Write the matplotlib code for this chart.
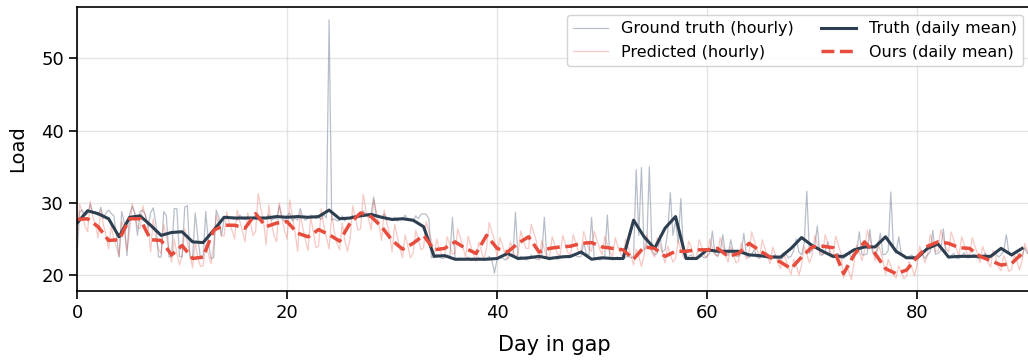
import numpy as np
import matplotlib
matplotlib.use("Agg")
import matplotlib.pyplot as plt

# 6-hourly samples (4 per day, day 0..90)
truth_hourly = [
    23.0, 28.8, 29.0, 28.2,  28.5, 29.8, 28.6, 28.8,
    28.2, 29.4, 27.8, 28.6,  29.0, 28.5, 28.2, 25.5,
    22.5, 28.8, 27.2, 22.7,  28.4, 29.5, 28.6, 25.5,
    28.8, 29.0, 28.4, 26.6,  28.6, 29.3, 27.2, 22.5,
    22.5, 28.8, 28.2, 22.5,  22.6, 29.2, 29.2, 22.6,
    22.5, 29.4, 29.6, 22.5,  22.4, 28.6, 25.2, 22.3,
    22.3, 28.8, 24.6, 22.3,  22.4, 29.0, 28.0, 25.4,
    27.8, 28.2, 27.9, 28.0,  28.0, 27.6, 28.3, 27.9,
    27.7, 28.1, 27.8, 28.0,  28.2, 27.6, 27.9, 28.0,
    27.9, 28.4, 27.6, 27.8,  27.8, 29.6, 28.0, 27.4,
    28.2, 28.6, 27.5, 27.9,  27.6, 29.2, 28.0, 27.6,
    27.9, 28.3, 28.1, 27.8,  28.0, 27.7, 28.4, 27.9,
    55.3, 27.6, 27.8, 27.5,  27.6, 28.2, 27.5, 27.9,
    27.8, 28.3, 27.7, 28.1,  28.2, 28.9, 28.4, 28.1,
    28.4, 30.8, 28.0, 28.0,  28.0, 28.5, 27.6, 27.9,
    27.6, 28.0, 27.5, 27.7,  27.8, 28.3, 27.6, 27.5,
    27.4, 28.2, 27.8, 28.4,  28.5, 28.4, 27.8, 22.4,
    22.5, 22.9, 22.6, 22.3,  22.4, 22.8, 22.5, 28.0,
    22.3, 22.0, 22.4, 22.1,  22.2, 22.5, 22.0, 22.1,
    22.1, 22.4, 22.2, 22.0,  22.3, 22.6, 22.1, 20.3,
    22.2, 22.5, 22.4, 22.1,  22.3, 22.7, 22.5, 28.7,
    22.2, 22.6, 22.3, 22.1,  22.3, 22.8, 22.4, 22.2,
    22.2, 22.6, 28.0, 22.3,  22.1, 22.5, 22.4, 22.2,
    22.3, 22.7, 22.6, 22.4,  22.4, 22.8, 22.7, 22.5,
    22.6, 24.5, 23.0, 22.7,  28.0, 22.4, 22.3, 22.1,
    22.2, 22.5, 28.3, 22.3,  22.1, 22.4, 22.5, 22.2,
    22.2, 22.5, 22.6, 22.4,  22.6, 34.6, 25.5, 34.9,
    23.5, 24.0, 35.0, 23.4,  22.8, 23.0, 25.5, 23.2,
    23.5, 26.0, 31.4, 25.5,  27.6, 24.5, 30.6, 23.0,
    22.3, 22.6, 22.8, 22.2,  22.2, 22.5, 22.6, 22.4,
    22.6, 23.0, 26.1, 23.0,  22.6, 23.2, 25.6, 22.8,
    22.7, 24.9, 23.2, 22.6,  22.6, 23.0, 25.8, 22.7,
    22.4, 22.9, 23.5, 22.5,  22.3, 22.8, 23.0, 22.4,
    22.2, 22.6, 22.8, 22.3,  22.2, 22.5, 22.9, 22.4,
    22.6, 23.4, 25.0, 23.2,  22.8, 24.5, 31.6, 23.0,
    23.5, 24.0, 26.8, 22.8,  22.8, 23.3, 24.6, 22.6,
    22.4, 22.7, 23.0, 22.3,  22.3, 22.6, 23.1, 22.4,
    22.6, 23.2, 26.0, 22.8,  22.8, 23.0, 26.3, 23.2,
    22.6, 23.5, 25.8, 22.8,  22.9, 23.4, 31.5, 23.6,
    23.0, 25.3, 23.0, 22.6,  22.3, 22.6, 22.8, 22.2,
    22.2, 22.5, 22.9, 22.3,  22.8, 23.2, 26.2, 22.9,
    23.0, 23.4, 26.4, 23.0,  22.4, 22.7, 23.0, 22.3,
    22.3, 22.6, 23.1, 22.4,  22.4, 22.8, 22.9, 22.3,
    22.3, 22.6, 23.0, 22.4,  22.4, 22.7, 23.0, 22.5,
    22.8, 23.3, 25.6, 23.0,  22.6, 22.9, 23.4, 22.4,
    22.6, 23.8, 23.0, 23.4,
]

pred_hourly = [
    25.5, 29.8, 28.5, 26.8,  26.0, 30.2, 28.0, 26.9,
    25.2, 29.0, 27.0, 25.5,  23.6, 26.8, 25.0, 23.8,
    22.6, 27.5, 26.2, 23.4,  26.2, 29.9, 28.4, 26.7,
    26.4, 29.6, 28.2, 27.0,  23.2, 27.8, 25.0, 23.6,
    23.0, 27.0, 25.3, 23.8,  21.8, 25.0, 23.0, 21.4,
    22.6, 26.4, 24.5, 22.9,  21.0, 24.6, 22.4, 21.2,
    21.3, 24.2, 22.9, 21.6,  24.0, 28.3, 27.0, 25.5,
    25.4, 28.8, 27.2, 26.2,  25.0, 29.0, 27.4, 26.1,
    24.6, 28.6, 27.3, 25.5,  26.0, 31.3, 29.2, 27.5,
    24.2, 29.7, 27.4, 25.5,  24.6, 30.0, 28.0, 26.2,
    25.0, 30.4, 28.2, 26.0,  23.3, 28.6, 26.5, 24.8,
    23.4, 28.0, 26.0, 23.8,  24.0, 29.2, 26.8, 25.2,
    23.6, 28.4, 26.0, 24.4,  23.5, 27.2, 24.8, 23.3,
    25.0, 29.6, 28.0, 26.2,  26.4, 31.2, 29.0, 27.8,
    26.2, 30.4, 28.8, 27.0,  24.8, 29.0, 27.2, 25.8,
    23.2, 27.0, 25.3, 23.7,  22.4, 25.6, 24.0, 22.4,
    23.0, 26.2, 24.9, 23.5,  23.8, 27.4, 26.0, 24.8,
    22.6, 25.0, 23.6, 22.8,  22.4, 25.3, 24.2, 22.9,
    23.0, 26.4, 25.2, 23.8,  22.5, 25.4, 24.0, 22.9,
    21.9, 24.6, 23.4, 22.1,  23.8, 27.3, 26.0, 24.9,
    22.4, 25.2, 24.2, 23.0,  22.2, 24.6, 23.6, 22.4,
    23.0, 26.1, 24.8, 23.7,  23.7, 27.0, 25.8, 24.7,
    22.1, 24.8, 23.6, 22.3,  22.5, 25.3, 24.1, 22.9,
    22.7, 25.5, 24.3, 23.1,  22.8, 25.6, 24.4, 23.2,
    23.2, 26.0, 24.8, 23.6,  23.3, 26.1, 24.9, 23.7,
    22.8, 25.4, 24.2, 23.2,  22.6, 25.2, 24.0, 23.0,
    22.5, 25.0, 23.8, 22.7,  21.4, 23.6, 22.6, 21.2,
    22.7, 25.5, 24.3, 23.1,  22.5, 25.2, 24.1, 23.0,
    21.7, 24.0, 22.9, 21.8,  22.3, 24.8, 23.6, 22.5,
    22.2, 24.7, 23.8, 22.5,  22.5, 24.9, 23.9, 22.7,
    22.4, 25.0, 23.8, 22.8,  22.6, 25.2, 24.0, 23.0,
    21.8, 23.9, 23.0, 21.7,  22.0, 24.4, 23.4, 22.2,
    23.2, 26.0, 24.8, 23.6,  22.4, 24.9, 23.7, 22.6,
    21.6, 23.9, 22.8, 21.7,  20.9, 23.1, 22.2, 21.0,
    20.1, 22.2, 21.3, 20.0,  21.4, 24.0, 22.9, 21.7,
    22.7, 25.5, 24.3, 23.1,  22.8, 25.6, 24.4, 23.2,
    22.6, 25.4, 24.2, 23.0,  19.6, 21.4, 20.5, 19.4,
    21.8, 24.2, 23.2, 22.0,  23.4, 26.2, 25.0, 23.8,
    22.0, 24.6, 23.4, 22.1,  20.1, 22.2, 21.3, 20.0,
    19.6, 21.3, 20.5, 19.5,  19.9, 21.9, 21.1, 19.9,
    21.4, 24.0, 22.9, 21.7,  22.8, 25.6, 24.4, 23.2,
    23.4, 26.3, 25.0, 23.7,  23.2, 26.0, 24.8, 23.6,
    22.7, 25.3, 24.2, 23.0,  22.6, 25.2, 24.0, 23.0,
    21.7, 24.0, 22.9, 21.8,  21.1, 23.4, 22.4, 21.1,
    20.6, 22.7, 21.8, 20.5,  20.8, 22.9, 22.0, 20.7,
    22.0, 24.4, 23.4, 22.2,
]

truth_daily = [
    27.2, 28.9, 28.5, 27.8, 25.3, 28.0, 28.2, 26.9, 25.5, 25.9,
    26.0, 24.6, 24.5, 26.2, 28.0, 27.9, 27.9, 27.9, 27.9, 28.1,
    28.0, 28.1, 28.0, 28.1, 29.0, 27.8, 27.9, 28.2, 28.4, 28.0,
    27.7, 27.8, 27.6, 26.7, 22.6, 22.7, 22.2, 22.2, 22.2, 22.2,
    22.3, 23.0, 22.3, 22.4, 22.6, 22.3, 22.5, 22.6, 23.2, 22.2,
    22.4, 22.3, 22.3, 27.6, 25.3, 23.7, 26.5, 28.1, 22.3, 22.3,
    23.5, 23.3, 23.3, 23.3, 22.8, 22.7, 22.5, 22.5, 23.7, 25.2,
    24.1, 23.3, 22.6, 22.6, 23.5, 23.9, 23.9, 25.3, 23.3, 22.4,
    22.4, 23.7, 24.3, 22.5, 22.6, 22.6, 22.6, 22.6, 23.7, 22.8,
    23.7,
]

ours_daily = [
    27.7, 27.8, 26.7, 24.8, 24.9, 27.8, 27.8, 24.9, 24.8, 22.8,
    24.1, 22.3, 22.5, 26.2, 26.9, 26.9, 26.5, 28.5, 26.7, 27.2,
    27.4, 25.8, 25.3, 26.3, 25.6, 24.7, 27.2, 28.6, 28.1, 26.7,
    24.8, 23.6, 24.4, 25.5, 23.5, 23.7, 24.6, 23.7, 23.0, 25.5,
    23.7, 23.2, 24.4, 25.3, 23.2, 23.7, 23.9, 24.0, 24.4, 24.5,
    23.9, 23.7, 23.5, 22.2, 23.9, 23.7, 22.6, 23.3, 23.3, 23.5,
    23.5, 23.7, 22.6, 23.0, 24.4, 23.4, 22.5, 21.8, 20.9, 22.5,
    23.9, 24.0, 23.8, 20.2, 22.8, 24.6, 23.0, 20.9, 20.2, 20.7,
    22.5, 24.0, 24.6, 24.4, 23.8, 23.7, 22.6, 22.0, 21.4, 21.6,
    23.0,
]

samples_per_day = 4
t_hourly = np.arange(len(truth_hourly)) / samples_per_day
t_daily = np.arange(len(truth_daily))

fig = plt.figure(figsize=(10.28, 3.62), dpi=100)
# right spine sits just past the image edge, as in the reference crop
ax = fig.add_axes([0.075, 0.196, 0.928, 0.785])

ax.plot(t_hourly, truth_hourly, color='#8a94a6', alpha=0.6, linewidth=0.9,
        label='Ground truth (hourly)')
ax.plot(t_hourly, pred_hourly, color='#e74c3c', alpha=0.3, linewidth=0.9,
        label='Predicted (hourly)')
ax.plot(t_daily, truth_daily, color='#2c3e50', linewidth=2.2,
        label='Truth (daily mean)')
ax.plot(t_daily, ours_daily, color='#e74c3c', linewidth=2.5, linestyle='--',
        label='Ours (daily mean)')

ax.set_xlim(0, 90.86)
ax.set_ylim(17.8, 57.1)
ax.set_xticks([0, 20, 40, 60, 80])
ax.set_yticks([20, 30, 40, 50])
ax.grid(True, color='#cccccc', alpha=0.5, linewidth=1.0)
ax.tick_params(labelsize=13, length=6, width=1.2)
for sp in ax.spines.values():
    sp.set_linewidth(1.2)

ax.set_xlabel('Day in gap', fontsize=15, labelpad=9)
ax.set_ylabel('Load', fontsize=14, labelpad=10)
ax.legend(loc='upper right', ncol=2, fontsize=11.5, framealpha=0.85,
          borderaxespad=0.5, columnspacing=1.7, handlelength=2.2,
          labelspacing=0.55)

fig.savefig('out.png', dpi=100)
